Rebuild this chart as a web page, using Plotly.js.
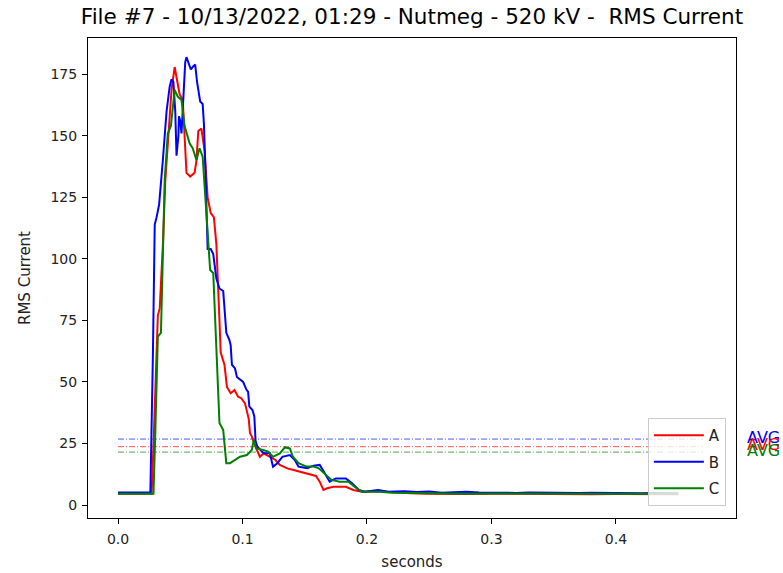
<!DOCTYPE html>
<html>
<head>
<meta charset="utf-8">
<script src="https://cdn.plot.ly/plotly-3.0.1.min.js"></script>
<style>
  html, body { margin: 0; padding: 0; background: #ffffff; }
  #chart { width: 783px; height: 573px; }
</style>
</head>
<body>
<div id="chart"></div>
<script>
// RMS current per phase (A, B, C) versus time in seconds
const seriesNames = ['A', 'B', 'C'];
const seriesColors = ['#ff0000', '#0000ff', '#008000'];

const tA = [0, 0.027, 0.0285, 0.0305, 0.032, 0.0335, 0.036, 0.038, 0.0395, 0.043, 0.0455, 0.047, 0.0495, 0.052, 0.0535, 0.055, 0.058, 0.0615, 0.063, 0.0645, 0.067, 0.0695, 0.072, 0.0745, 0.077, 0.079, 0.0815, 0.0825, 0.0855, 0.0875, 0.0905, 0.0935, 0.0965, 0.099, 0.102, 0.105, 0.106, 0.1075, 0.1115, 0.114, 0.117, 0.122, 0.1265, 0.130, 0.136, 0.141, 0.146, 0.152, 0.159, 0.162, 0.165, 0.168, 0.173, 0.183, 0.189, 0.196, 0.205, 0.215, 0.225, 0.235, 0.25, 0.265, 0.28, 0.30, 0.32, 0.34, 0.36, 0.38, 0.40, 0.42, 0.44, 0.45];
const valA = [4.6, 4.6, 24, 60, 77, 80, 105, 132, 144, 168.7, 178, 174, 167, 164.6, 150, 135, 133.5, 135, 140, 152, 153, 144, 125, 118.6, 117, 106, 75, 62, 57, 48, 45.4, 46.7, 44, 43.4, 41.3, 35, 29.3, 27.8, 22.4, 19.6, 21, 19.6, 18.3, 16.3, 14.9, 14.2, 13.5, 12.9, 11.8, 9.5, 6.1, 6.8, 7.4, 7.4, 6.1, 5.4, 5.6, 5.4, 5.0, 4.8, 4.6, 4.7, 4.5, 4.6, 4.5, 4.4, 4.5, 4.4, 4.5, 4.4, 4.4, 4.4];

const tB = [0, 0.026, 0.028, 0.0295, 0.031, 0.033, 0.036, 0.039, 0.0415, 0.043, 0.0445, 0.046, 0.047, 0.0485, 0.049, 0.050, 0.051, 0.0525, 0.054, 0.055, 0.057, 0.0585, 0.060, 0.062, 0.0635, 0.066, 0.068, 0.069, 0.070, 0.072, 0.0745, 0.0765, 0.079, 0.0815, 0.0845, 0.087, 0.0895, 0.0905, 0.0915, 0.094, 0.0955, 0.0985, 0.1005, 0.103, 0.1045, 0.1055, 0.108, 0.1095, 0.1105, 0.112, 0.117, 0.122, 0.1245, 0.128, 0.132, 0.138, 0.142, 0.145, 0.152, 0.157, 0.162, 0.166, 0.170, 0.175, 0.183, 0.188, 0.1935, 0.198, 0.209, 0.217, 0.23, 0.24, 0.25, 0.26, 0.27, 0.28, 0.29, 0.30, 0.31, 0.32, 0.33, 0.34, 0.35, 0.36, 0.37, 0.38, 0.39, 0.40, 0.41, 0.42, 0.43, 0.44, 0.45];
const valB = [5.1, 5.1, 60, 114, 117, 122, 140, 160, 170, 173, 172, 160, 142, 150, 158, 156, 151, 165, 180, 182, 179, 177, 178, 179, 172, 164, 163, 155, 140, 104, 104, 102, 92, 88, 87, 70, 67, 65, 57, 55.5, 52, 51, 50, 47, 46, 40, 38.6, 36, 26, 23.7, 21, 21, 15.6, 17, 19.6, 20.3, 18.3, 15.6, 15, 16, 16.3, 13, 9.5, 10.8, 10.8, 8.8, 6.1, 5.4, 6.1, 5.4, 5.6, 5.3, 5.5, 5.0, 5.2, 5.4, 5.1, 5.0, 5.2, 4.9, 5.1, 5.0, 4.9, 5.0, 4.9, 5.0, 4.9, 4.8, 4.9, 4.8, 4.9, 4.8, 4.8];

const tC = [0, 0.0285, 0.030, 0.032, 0.0345, 0.037, 0.0375, 0.040, 0.0425, 0.0455, 0.048, 0.051, 0.0535, 0.0575, 0.060, 0.063, 0.0655, 0.068, 0.0705, 0.0725, 0.074, 0.0765, 0.079, 0.0815, 0.0845, 0.087, 0.090, 0.094, 0.098, 0.1035, 0.1075, 0.109, 0.111, 0.1165, 0.1205, 0.1245, 0.130, 0.134, 0.138, 0.1405, 0.145, 0.1515, 0.157, 0.161, 0.166, 0.1715, 0.178, 0.185, 0.190, 0.196, 0.21, 0.22, 0.235, 0.25, 0.265, 0.28, 0.30, 0.32, 0.34, 0.36, 0.38, 0.40, 0.42, 0.44, 0.45];
const valC = [4.6, 4.6, 30, 68.4, 70, 117, 132, 151, 154, 168.7, 166, 164.6, 154, 147, 145, 140.2, 145, 141.6, 122, 104, 95.5, 94.3, 66, 33.3, 30.5, 17, 17, 18.3, 19.6, 20.3, 22.4, 26.4, 23, 22.4, 21.7, 19.6, 21, 23.4, 23, 19.6, 17, 15.6, 15.6, 15, 12.9, 10.2, 9.5, 9.5, 7.4, 5.4, 5.4, 5.0, 4.9, 4.7, 4.8, 4.6, 4.7, 4.6, 4.7, 4.6, 4.6, 4.6, 4.6, 4.6, 4.6];

// Per-phase average reference levels and their horizontal extent
const avgValues = [23.7, 26.8, 21.5];
const avgSpan = [0, 0.47];
const avgLabel = 'AVG';

const xTicks = [0, 0.1, 0.2, 0.3, 0.4];
const xTickText = ['0.0', '0.1', '0.2', '0.3', '0.4'];
const yTicks = [0, 25, 50, 75, 100, 125, 150, 175];
const yTickText = ['0', '25', '50', '75', '100', '125', '150', '175'];

const FONT = '"DejaVu Sans", sans-serif';

const times = [tA, tB, tC];
const values = [valA, valB, valC];

const traces = [];
// dash-dot average lines (drawn underneath the measured curves)
[1, 0, 2].forEach(i => {
  traces.push({
    x: avgSpan, y: [avgValues[i], avgValues[i]],
    type: 'scatter', mode: 'lines', showlegend: false, hoverinfo: 'skip',
    line: { color: seriesColors[i], width: 0.9, dash: '6px,2px,1px,2px' },
    opacity: 0.75
  });
});
seriesNames.forEach((name, i) => {
  traces.push({
    x: times[i], y: values[i], name: name, legendgroup: name,
    type: 'scatter', mode: 'lines',
    line: { color: seriesColors[i], width: 2, shape: 'linear' }
  });
});

const annotations = [1, 0, 2].map(i => ({
  text: avgLabel, xref: 'paper', yref: 'y', x: 1.0139, y: avgValues[i],
  xanchor: 'left', yanchor: 'middle', yshift: 2, showarrow: false,
  font: { family: FONT, size: 16, color: seriesColors[i] }
}));

const layout = {
  width: 783, height: 573,
  margin: { l: 88, r: 47, t: 38, b: 55 },
  paper_bgcolor: '#ffffff', plot_bgcolor: '#ffffff',
  font: { family: FONT, size: 14, color: '#000000' },
  title: {
    text: 'File #7 - 10/13/2022, 01:29 - Nutmeg - 520 kV -  RMS Current',
    x: 0.5, xref: 'paper', xanchor: 'center',
    y: 0.972, yref: 'container', yanchor: 'middle',
    font: { family: FONT, size: 21.5, color: '#000000' }
  },
  xaxis: {
    range: [-0.0241, 0.4964],
    tickvals: xTicks, ticktext: xTickText,
    showgrid: false, zeroline: false,
    showline: true, mirror: true, linecolor: '#000000', linewidth: 1,
    ticks: 'outside', ticklen: 5, tickwidth: 1, tickcolor: '#000000',
    ticklabelstandoff: 3,
    tickfont: { family: FONT, size: 14, color: '#222222' },
    title: { text: 'seconds', standoff: 10, font: { family: FONT, size: 15, color: '#222222' } }
  },
  yaxis: {
    range: [-5.28, 189.8],
    tickvals: yTicks, ticktext: yTickText,
    showgrid: false, zeroline: false,
    showline: true, mirror: true, linecolor: '#000000', linewidth: 1,
    ticks: 'outside', ticklen: 5, tickwidth: 1, tickcolor: '#000000',
    ticklabelstandoff: 2,
    tickfont: { family: FONT, size: 14, color: '#222222' },
    title: { text: 'RMS Current', standoff: 16, font: { family: FONT, size: 15, color: '#222222' } }
  },
  legend: {
    x: 0.864, y: 0.025, xanchor: 'left', yanchor: 'bottom',
    bgcolor: 'rgba(255,255,255,0.8)', bordercolor: '#cccccc', borderwidth: 1,
    font: { family: FONT, size: 15, color: '#222222' },
    itemwidth: 50,
    tracegroupgap: 4
  },
  annotations: annotations,
  showlegend: true
};

Plotly.newPlot('chart', traces, layout, { staticPlot: true, displayModeBar: false });
</script>
</body>
</html>
